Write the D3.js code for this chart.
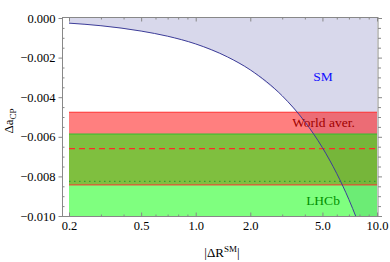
<!DOCTYPE html>
<html>
<head>
<meta charset="utf-8">
<script src="https://cdn.jsdelivr.net/npm/d3@7"></script>
<style>
  body { margin: 0; background: #fff; }
  svg text { font-family: "Liberation Serif", "Times New Roman", serif; }
</style>
</head>
<body>
<div id="chart"></div>
<script>
// curve: |dR_SM| vs delta a_CP
const curveX = [0.2, 0.3, 0.5, 0.7, 1.0, 1.5, 2.0, 3.0, 4.0, 5.0, 6.0, 7.0, 7.7];
const curveY = [-0.00026, -0.00039, -0.00066, -0.00092, -0.00131, -0.00197, -0.00262, -0.00393, -0.00524, -0.00655, -0.00786, -0.00917, -0.0101];

// measurement bands
const bandNames = ["World aver.", "LHCb"];
const bandLow = [-0.00843, -0.0106];
const bandHigh = [-0.00476, -0.00586];
const bandCentral = [-0.0066, -0.00825];

const xTicks = [0.2, 0.5, 1, 2, 5, 10];
const xTickLabels = ["0.2", "0.5", "1.0", "2.0", "5.0", "10.0"];
const xMinor = [0.3, 0.4, 0.6, 0.7, 0.8, 0.9, 3, 4, 6, 7, 8, 9];
const yTicks = [0, -0.002, -0.004, -0.006, -0.008, -0.010];
const yTickLabels = ["0.000", "\u22120.002", "\u22120.004", "\u22120.006", "\u22120.008", "\u22120.010"];
const yMinor = d3.range(0, 20).map(i => -0.0005 * i).filter((v, i) => i % 4 !== 0);

const width = 390, height = 262;
const frame = { left: 62.5, right: 378, top: 17.5, bottom: 216.5 };

const x = d3.scaleLog().domain([0.2, 10]).range([69, 377]);
const y = d3.scaleLinear().domain([-0.010, 0]).range([216, 18]);

const svg = d3.select('#chart').append('svg')
    .attr('width', width).attr('height', height);

svg.append('clipPath').attr('id', 'clip')
    .append('rect')
    .attr('x', x(0.2)).attr('y', y(0))
    .attr('width', x(10) - x(0.2)).attr('height', y(-0.010) - y(0));

const plot = svg.append('g').attr('clip-path', 'url(#clip)');

const pts = curveX.map((v, i) => [v, curveY[i]]);
const last = pts[pts.length - 1];

// SM region above the curve
const smPoly = pts.concat([[10, last[1]], [10, 0], [0.2, 0]]);
plot.append('path')
    .attr('d', d3.line().x(d => x(d[0])).y(d => y(d[1])).curve(d3.curveLinear)(smPoly))
    .attr('fill', 'rgb(61,61,153)').attr('fill-opacity', 0.2);

// bands
const bandFill = ['rgb(255,0,0)', 'rgb(0,255,0)'];
const bandEdge = ['#ff3030', '#30c030'];
bandNames.forEach((n, i) => {
    plot.append('rect')
        .attr('x', x(0.2)).attr('width', x(10) - x(0.2))
        .attr('y', y(bandHigh[i])).attr('height', y(bandLow[i]) - y(bandHigh[i]))
        .attr('fill', bandFill[i]).attr('fill-opacity', 0.5);
});
bandNames.forEach((n, i) => {
    [bandHigh[i], bandLow[i]].forEach(v => {
        plot.append('line')
            .attr('x1', x(0.2)).attr('x2', x(10))
            .attr('y1', y(v)).attr('y2', y(v))
            .attr('stroke', bandEdge[i]).attr('stroke-width', 1);
    });
});

// central values
plot.append('line')
    .attr('x1', x(0.2)).attr('x2', x(10))
    .attr('y1', y(bandCentral[0])).attr('y2', y(bandCentral[0]))
    .attr('stroke', '#ff2a2a').attr('stroke-width', 1.2)
    .attr('stroke-dasharray', '6,4');
plot.append('line')
    .attr('x1', x(0.2)).attr('x2', x(10))
    .attr('y1', y(bandCentral[1])).attr('y2', y(bandCentral[1]))
    .attr('stroke', '#30a030').attr('stroke-width', 1.2)
    .attr('stroke-dasharray', '1.5,3.5');

// curve
plot.append('path')
    .attr('d', d3.line().x(d => x(d[0])).y(d => y(d[1])).curve(d3.curveMonotoneX)(pts))
    .attr('fill', 'none').attr('stroke', 'rgb(61,61,153)').attr('stroke-width', 1);

// labels in the plot
svg.append('text').attr('x', 323).attr('y', 81).attr('text-anchor', 'middle')
    .attr('font-size', 13.5).attr('fill', '#1010ff').text('SM');
svg.append('text').attr('x', 323.5).attr('y', 127).attr('text-anchor', 'middle')
    .attr('font-size', 13.5).attr('fill', '#a00000').text(bandNames[0]);
svg.append('text').attr('x', 323).attr('y', 205).attr('text-anchor', 'middle')
    .attr('font-size', 13.5).attr('fill', '#009000').text(bandNames[1]);

// frame
svg.append('rect')
    .attr('x', frame.left).attr('y', frame.top)
    .attr('width', frame.right - frame.left).attr('height', frame.bottom - frame.top)
    .attr('fill', 'none').attr('stroke', '#888').attr('stroke-width', 1);

const fs = 12.5;
function styleAxis(g) {
    g.select('.domain').remove();
    g.selectAll('line').attr('stroke', '#888');
    g.selectAll('text').attr('font-size', fs).attr('fill', '#000')
        .style('font-family', '"Liberation Serif", "Times New Roman", serif');
}

// bottom
svg.append('g').attr('transform', `translate(0,${frame.bottom})`)
    .call(d3.axisBottom(x).tickValues(xTicks).tickFormat((d, i) => xTickLabels[i]).tickSize(-4).tickPadding(5))
    .call(styleAxis);
svg.append('g').attr('transform', `translate(0,${frame.bottom})`)
    .call(d3.axisBottom(x).tickValues(xMinor).tickFormat('').tickSize(-2))
    .call(styleAxis);
// top
svg.append('g').attr('transform', `translate(0,${frame.top})`)
    .call(d3.axisTop(x).tickValues(xTicks).tickFormat('').tickSize(-4))
    .call(styleAxis);
svg.append('g').attr('transform', `translate(0,${frame.top})`)
    .call(d3.axisTop(x).tickValues(xMinor).tickFormat('').tickSize(-2))
    .call(styleAxis);
// left
svg.append('g').attr('transform', `translate(${frame.left},0)`)
    .call(d3.axisLeft(y).tickValues(yTicks).tickFormat((d, i) => yTickLabels[i]).tickSize(4).tickPadding(3))
    .call(styleAxis);
svg.append('g').attr('transform', `translate(${frame.left},0)`)
    .call(d3.axisLeft(y).tickValues(yMinor).tickFormat('').tickSize(-2))
    .call(styleAxis);
// right
svg.append('g').attr('transform', `translate(${frame.right},0)`)
    .call(d3.axisRight(y).tickValues(yTicks).tickFormat('').tickSize(4))
    .call(styleAxis);
svg.append('g').attr('transform', `translate(${frame.right},0)`)
    .call(d3.axisRight(y).tickValues(yMinor).tickFormat('').tickSize(3))
    .call(styleAxis);

// axis titles
const yl = svg.append('text')
    .attr('transform', 'translate(13,121) rotate(-90)')
    .attr('text-anchor', 'middle').attr('font-size', 13);
yl.append('tspan').text('\u0394a');
yl.append('tspan').attr('font-size', 9).attr('dy', 3).text('CP');

const xl = svg.append('text')
    .attr('x', 222).attr('y', 257).attr('text-anchor', 'middle').attr('font-size', 13);
xl.append('tspan').text('|\u0394R');
xl.append('tspan').attr('font-size', 9).attr('dy', -5).text('SM');
xl.append('tspan').attr('dy', 5).text('|');
</script>
</body>
</html>
